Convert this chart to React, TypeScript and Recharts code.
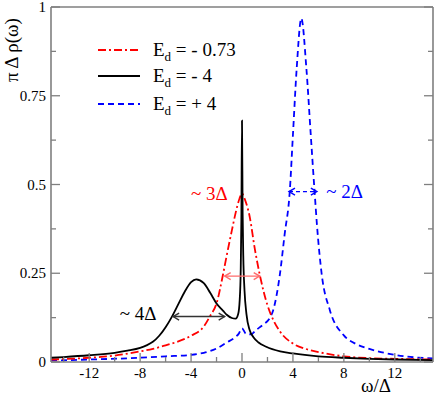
import React from 'react';
import { LineChart, Line, XAxis, YAxis, ReferenceLine, ReferenceDot } from 'recharts';

const W = 436;
const H = 396;
const FONT = '"Liberation Serif", "Times New Roman", Times, serif';
const AXIS = '#7f7f7f';

// ---- ticks ----
const xTicks = [-14, -12, -10, -8, -6, -4, -2, 0, 2, 4, 6, 8, 10, 12, 14];
const xMajor = [-12, -8, -4, 0, 4, 8, 12];
const yTicks = [0, 0.125, 0.25, 0.375, 0.5, 0.625, 0.75, 0.875, 1];
const yMajor = [0, 0.25, 0.5, 0.75, 1];
const yTickLabels = ['0', '0.25', '0.5', '0.75', '1'];

// ---- series: E_d = -0.73 (red dash-dot) ----
const redOmega = [-15, -12, -10, -8, -7, -6, -5, -4, -3, -2.5, -2, -1.5, -1.2, -0.8, -0.5, -0.2, 0, 0.2, 0.6, 1, 1.4, 2, 2.5, 3, 4, 5, 6, 8, 10, 12, 15];
const redRho = [0.007, 0.012, 0.018, 0.03, 0.037, 0.047, 0.058, 0.074, 0.1, 0.13, 0.165, 0.245, 0.3, 0.37, 0.42, 0.46, 0.475, 0.46, 0.41, 0.32, 0.245, 0.16, 0.115, 0.085, 0.052, 0.037, 0.028, 0.016, 0.011, 0.009, 0.007];

// ---- series: E_d = -4 (black solid) ----
const blackOmega = [-15, -14, -12, -10, -9, -8, -7.5, -7, -6.5, -6, -5.5, -5, -4.5, -4, -3.6, -3, -2.5, -2, -1.5, -1.2, -0.8, -0.5, -0.3, -0.18, -0.1, -0.05, 0, 0.05, 0.1, 0.2, 0.35, 0.6, 0.9, 1.3, 1.9, 3, 4, 6, 8, 10, 12, 15];
const blackRho = [0.012, 0.014, 0.019, 0.026, 0.032, 0.04, 0.047, 0.057, 0.074, 0.098, 0.128, 0.163, 0.198, 0.225, 0.233, 0.222, 0.195, 0.165, 0.145, 0.133, 0.124, 0.122, 0.135, 0.175, 0.26, 0.4, 0.68, 0.42, 0.3, 0.2, 0.135, 0.09, 0.07, 0.055, 0.043, 0.03, 0.024, 0.016, 0.012, 0.009, 0.007, 0.005];

// ---- series: E_d = +4 (blue dashed) ----
const blueOmega = [-15, -12, -8, -6, -4, -3, -2, -1.2, -0.6, -0.25, 0, 0.3, 0.7, 1.1, 1.65, 2.2, 2.45, 2.95, 3.35, 3.75, 4, 4.3, 4.66, 5.05, 5.4, 5.7, 5.9, 6.25, 6.9, 8, 9, 10, 12, 15];
const blueRho = [0.004, 0.007, 0.012, 0.016, 0.02, 0.026, 0.038, 0.055, 0.068, 0.08, 0.095, 0.08, 0.078, 0.09, 0.105, 0.125, 0.146, 0.24, 0.36, 0.48, 0.64, 0.83, 0.968, 0.83, 0.64, 0.48, 0.38, 0.25, 0.146, 0.075, 0.05, 0.037, 0.02, 0.01];

// ---- legend ----
const legendSuffix = ['= - 0.73', '= - 4', '= + 4'];
const legendColors = ['#ff0000', '#000000', '#0000ff'];
const legendDash = ['8 3 2 3', undefined, '6 4'];

// ---- annotations (data coords) ----
const arrowSpans = [
  { x1: -5.41, x2: -1.36, y: 0.128, color: '#333333', dash: undefined },
  { x1: -1.36, x2: 1.39, y: 0.242, color: '#ff6b6b', dash: undefined },
  { x1: 3.69, x2: 5.88, y: 0.48, color: '#0000ff', dash: '4 3' },
];
const noteTexts = [
  { x: -9.6, y: 0.118, text: '~ 4Δ', color: '#000000' },
  { x: -4.0, y: 0.457, text: '~ 3Δ', color: '#ff0000' },
  { x: 6.62, y: 0.461, text: '~ 2Δ', color: '#0000ff' },
];

const zip = (xs: number[], ys: number[]) => xs.map((x, i) => ({ x, y: ys[i] }));
const redData = zip(redOmega, redRho);
const blackData = zip(blackOmega, blackRho);
const blueData = zip(blueOmega, blueRho);

const isMajorY = (v: number) => yMajor.some((m) => Math.abs(m - v) < 1e-9);
const labelY = (v: number) => yTickLabels[yMajor.findIndex((m) => Math.abs(m - v) < 1e-9)];

const BottomTick = (p: any) => {
  const { x, y, payload } = p;
  const major = xMajor.includes(payload.value);
  return (
    <g>
      <line x1={x} x2={x} y1={y} y2={y - (major ? 9 : 5)} stroke={AXIS} strokeWidth={1.3} />
      {major && (
        <text x={x} y={y + 16} textAnchor="middle" fontSize={15} fontFamily={FONT} fill="#000">
          {payload.value}
        </text>
      )}
    </g>
  );
};
const TopTick = (p: any) => {
  const { x, y, payload } = p;
  const major = xMajor.includes(payload.value);
  return <line x1={x} x2={x} y1={y} y2={y + (major ? 9 : 5)} stroke={AXIS} strokeWidth={1.3} />;
};
const LeftTick = (p: any) => {
  const { x, y, payload } = p;
  const major = isMajorY(payload.value);
  return (
    <g>
      <line x1={x} x2={x + (major ? 9 : 5)} y1={y} y2={y} stroke={AXIS} strokeWidth={1.3} />
      {major && (
        <text x={x - 5} y={y + 5} textAnchor="end" fontSize={15} fontFamily={FONT} fill="#000">
          {labelY(payload.value)}
        </text>
      )}
    </g>
  );
};
const RightTick = (p: any) => {
  const { x, y, payload } = p;
  const major = isMajorY(payload.value);
  return <line x1={x} x2={x - (major ? 9 : 5)} y1={y} y2={y} stroke={AXIS} strokeWidth={1.3} />;
};

const makeArrow = (color: string, dash?: string) => (p: any) => {
  const { x1, y1, x2, y2 } = p;
  const h = 6;
  const w = 3.5;
  return (
    <g>
      <line x1={x1} y1={y1} x2={x2} y2={y2} stroke={color} strokeWidth={1.4} strokeDasharray={dash} />
      <polyline points={`${x1 + h},${y1 - w} ${x1},${y1} ${x1 + h},${y1 + w}`} fill="none" stroke={color} strokeWidth={1.4} />
      <polyline points={`${x2 - h},${y2 - w} ${x2},${y2} ${x2 - h},${y2 + w}`} fill="none" stroke={color} strokeWidth={1.4} />
    </g>
  );
};

const makeNote = (text: string, color: string) => (p: any) => (
  <text x={p.cx} y={p.cy} fontSize={19} fontFamily={FONT} fill={color}>
    {text}
  </text>
);

export default function App() {
  const legendLineY = [50, 76, 104];
  const axisLine = { stroke: AXIS, strokeWidth: 1.6 };
  return (
    <div style={{ position: 'absolute', left: 0, top: 0, width: W, height: H, background: '#fff', fontFamily: FONT }}>
      <LineChart width={W} height={H} margin={{ top: 6, right: 2, bottom: 33, left: 50 }}>
        <XAxis xAxisId="b" dataKey="x" type="number" domain={[-15, 15]} ticks={xTicks} interval={0} allowDataOverflow
          height={1} tickSize={0} tickMargin={0} tickLine={false} axisLine={axisLine} tick={BottomTick} />
        <XAxis xAxisId="t" orientation="top" type="number" domain={[-15, 15]} ticks={xTicks} interval={0} allowDataOverflow
          height={1} tickSize={0} tickMargin={0} tickLine={false} axisLine={axisLine} tick={TopTick} />
        <YAxis yAxisId="l" type="number" domain={[0, 1]} ticks={yTicks} interval={0} allowDataOverflow
          width={1} tickSize={0} tickMargin={0} tickLine={false} axisLine={axisLine} tick={LeftTick} />
        <YAxis yAxisId="r" orientation="right" type="number" domain={[0, 1]} ticks={yTicks} interval={0} allowDataOverflow
          width={1} tickSize={0} tickMargin={0} tickLine={false} axisLine={axisLine} tick={RightTick} />
        <Line xAxisId="b" yAxisId="l" data={blueData} dataKey="y" type="monotone" stroke="#0000ff" strokeWidth={1.8} strokeDasharray="6 4" dot={false} isAnimationActive={false} />
        <Line xAxisId="b" yAxisId="l" data={redData} dataKey="y" type="monotone" stroke="#ff0000" strokeWidth={1.8} strokeDasharray="8 3 2 3" dot={false} isAnimationActive={false} />
        <Line xAxisId="b" yAxisId="l" data={blackData} dataKey="y" type="monotone" stroke="#000000" strokeWidth={1.8} dot={false} isAnimationActive={false} />
        {arrowSpans.map((a, i) => (
          <ReferenceLine key={'a' + i} xAxisId="b" yAxisId="l" segment={[{ x: a.x1, y: a.y }, { x: a.x2, y: a.y }]} shape={makeArrow(a.color, a.dash)} />
        ))}
        {noteTexts.map((n, i) => (
          <ReferenceDot key={'n' + i} xAxisId="b" yAxisId="l" x={n.x} y={n.y} r={0} shape={makeNote(n.text, n.color)} />
        ))}
      </LineChart>
      <svg width={W} height={H} style={{ position: 'absolute', left: 0, top: 0, pointerEvents: 'none' }}>
        {legendSuffix.map((s, i) => (
          <g key={i}>
            <line x1={98} x2={140} y1={legendLineY[i]} y2={legendLineY[i]} stroke={legendColors[i]} strokeWidth={1.8} strokeDasharray={legendDash[i]} />
            <text x={153} y={legendLineY[i] + 6} fontSize={19} fontFamily={FONT} fill="#000">
              E<tspan fontSize={13} dy={5}>d</tspan>
              <tspan dy={-5}>{' ' + s}</tspan>
            </text>
          </g>
        ))}
        <text transform="rotate(-90)" x={-50} y={18} textAnchor="middle" fontSize={19} fontFamily={FONT} fill="#000">
          π Δ ρ(ω)
        </text>
        <text x={376} y={392} textAnchor="middle" fontSize={19} fontFamily={FONT} fill="#000">
          ω/Δ
        </text>
      </svg>
    </div>
  );
}
